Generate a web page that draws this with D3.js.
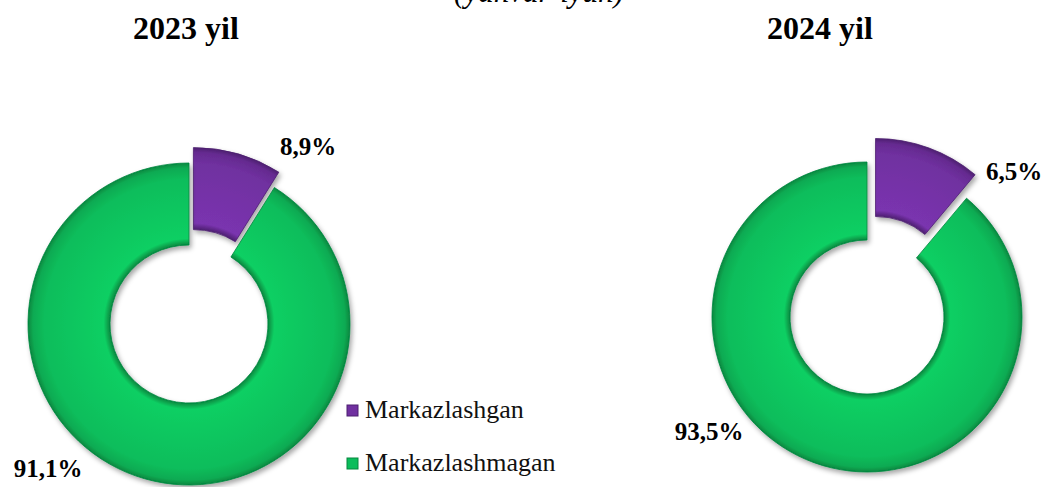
<!DOCTYPE html>
<html>
<head>
<meta charset="utf-8">
<script src="https://cdn.jsdelivr.net/npm/d3@7/dist/d3.min.js"></script>
<style>
  body { margin: 0; background: #fff; }
  svg { display: block; font-family: "Liberation Serif", "Times New Roman", serif; }
</style>
</head>
<body>
<div id="chart"></div>
<script>
// data
var categories = ["Markazlashgan", "Markazlashmagan"];
var years = ["2023 yil", "2024 yil"];
var values2023 = [8.9, 91.1];
// the 2024 ring is drawn with a wider purple slice (~40 deg) than its 6,5% label says
var values2024 = [11.1, 88.9];
var labels2023 = ["8,9%", "91,1%"];
var labels2024 = ["6,5%", "93,5%"];
var subtitle = "(yanvar-iyun)";

var colors = ["#7030a0", "#0bbd5b"];
var darks = ["#4d1f70", "#06873f"];

var width = 1047, height = 487;

var svg = d3.select("#chart")
  .append("svg")
  .attr("width", width)
  .attr("height", height);

var defs = svg.append("defs");
defs.append("filter")
  .attr("id", "shadow")
  .attr("x", "-20%").attr("y", "-20%").attr("width", "140%").attr("height", "140%")
  .append("feDropShadow")
  .attr("dx", 2).attr("dy", 3)
  .attr("stdDeviation", 2.5)
  .attr("flood-color", "#000")
  .attr("flood-opacity", 0.35);

// one donut per year; layout only
var charts = [
  { values: values2023, labels: labels2023, title: years[0], cx: 189, cy: 324, R: 161, r: 79, explode: 16, titleX: 186,
    labelPos: [[308, 155], [48, 477]] },
  { values: values2024, labels: labels2024, title: years[1], cx: 867, cy: 317, R: 155, r: 77, explode: 25, titleX: 820,
    labelPos: [[1014, 180], [709, 440]] }
];

var pie = d3.pie().sort(null).value(function(d) { return d; });

charts.forEach(function(c, ci) {
  // bevel-ish radial gradient per slice colour
  colors.forEach(function(col, i) {
    var g = defs.append("radialGradient")
      .attr("id", "grad" + ci + "_" + i)
      .attr("gradientUnits", "userSpaceOnUse")
      .attr("cx", 0).attr("cy", 0).attr("r", c.R);
    var k = c.r / c.R;
    g.append("stop").attr("offset", k).attr("stop-color", darks[i]);
    g.append("stop").attr("offset", k + 0.04).attr("stop-color", d3.color(col).brighter(0.25));
    g.append("stop").attr("offset", 0.9).attr("stop-color", col);
    g.append("stop").attr("offset", 0.97).attr("stop-color", d3.color(col).darker(0.3));
    g.append("stop").attr("offset", 1).attr("stop-color", darks[i]);
  });

  var arc = d3.arc().innerRadius(c.r).outerRadius(c.R);
  var g = svg.append("g").attr("transform", "translate(" + c.cx + "," + c.cy + ")");

  var arcs = pie(c.values);
  g.selectAll("path")
    .data(arcs)
    .enter()
    .append("path")
    .attr("d", arc)
    .attr("transform", function(d, i) {
      if (i !== 0) return null;
      var a = (d.startAngle + d.endAngle) / 2;
      return "translate(" + (Math.sin(a) * c.explode) + "," + (-Math.cos(a) * c.explode) + ")";
    })
    .attr("fill", function(d, i) { return "url(#grad" + ci + "_" + i + ")"; })
    .attr("stroke", function(d, i) { return darks[i]; })
    .attr("stroke-width", 0.8)
    .attr("filter", "url(#shadow)");

  // value labels
  svg.selectAll(null)
    .data(c.labels)
    .enter()
    .append("text")
    .attr("x", function(d, i) { return c.labelPos[i][0]; })
    .attr("y", function(d, i) { return c.labelPos[i][1]; })
    .attr("text-anchor", "middle")
    .attr("font-weight", "bold")
    .attr("font-size", 25)
    .text(function(d) { return d; });

  svg.append("text")
    .attr("x", c.titleX)
    .attr("y", 39)
    .attr("text-anchor", "middle")
    .attr("font-weight", "bold")
    .attr("font-size", 32)
    .text(c.title);
});

// subtitle, mostly cut off at the top as in the source
svg.append("text")
  .attr("x", 539)
  .attr("y", 2)
  .attr("text-anchor", "middle")
  .attr("font-style", "italic")
  .attr("font-size", 31)
  .text(subtitle);

// legend
var legend = svg.append("g").attr("transform", "translate(347,405)");
var items = legend.selectAll("g")
  .data(categories)
  .enter()
  .append("g")
  .attr("transform", function(d, i) { return "translate(0," + (i * 53) + ")"; });

items.append("rect")
  .attr("width", 11).attr("height", 11)
  .attr("fill", function(d, i) { return colors[i]; })
  .attr("stroke", function(d, i) { return darks[i]; })
  .attr("stroke-width", 1);

items.append("text")
  .attr("x", 18)
  .attr("y", 13)
  .attr("font-size", 26)
  .attr("fill", "#111")
  .text(function(d) { return d; });
</script>
</body>
</html>
